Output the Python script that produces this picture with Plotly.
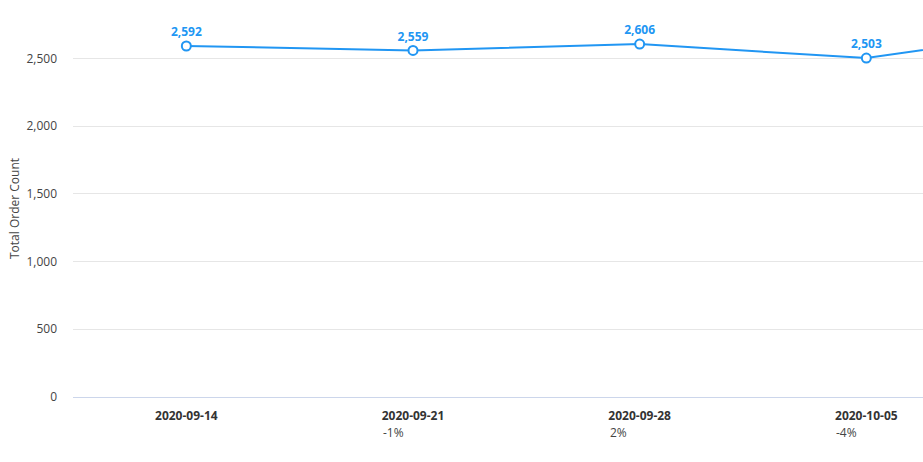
import plotly.graph_objects as go

weeks = ["2020-09-14", "2020-09-21", "2020-09-28", "2020-10-05", "2020-10-12"]
orders = [2592, 2559, 2606, 2503, 2740]
changes = ["", "-1%", "2%", "-4%", "9%"]

BLUE = "#2196f3"
FONT = "Open Sans"
VISIBLE = 4  # categories that fall inside the visible window

fig = go.Figure()
fig.add_trace(go.Scatter(
    x=list(range(len(weeks))), y=orders,
    mode="lines+markers+text",
    line=dict(color=BLUE, width=2),
    marker=dict(size=9, color="white", line=dict(color=BLUE, width=2)),
    text=[f"<b>{v:,}</b>" if i < VISIBLE else "" for i, v in enumerate(orders)],
    textposition="top center",
    textfont=dict(family=FONT, size=12, color=BLUE),
    cliponaxis=True,
    hoverinfo="skip",
))

for i, c in enumerate(changes[:VISIBLE]):
    if c:
        fig.add_annotation(
            x=i, xref="x", y=0, yref="paper",
            text=c, showarrow=False,
            xanchor="left", yanchor="top",
            xshift=-32, yshift=-25,
            font=dict(family=FONT, size=12, color="#444"),
        )

fig.update_layout(
    width=923, height=462,
    margin=dict(l=73, r=0, t=20, b=65),
    plot_bgcolor="white", paper_bgcolor="white",
    showlegend=False,
    font=dict(family=FONT, color="#444"),
)
fig.update_xaxes(
    range=[-0.5, 3.25],
    tickmode="array",
    tickvals=list(range(VISIBLE)),
    ticktext=[f"<b>{w}</b>" for w in weeks[:VISIBLE]],
    tickfont=dict(family=FONT, size=12, color="#333"),
    showgrid=False, zeroline=False,
    showline=True, linecolor="#ccd6eb", linewidth=1,
    ticks="", ticklabelstandoff=8,
    automargin=False,
)
fig.update_yaxes(
    range=[0, 2784],
    tickvals=[0, 500, 1000, 1500, 2000, 2500],
    tickformat=",",
    tickfont=dict(family=FONT, size=12, color="#444"),
    showgrid=True, gridcolor="#e6e6e6", gridwidth=1,
    zeroline=False, showline=False,
    ticks="", ticklabelstandoff=15,
    automargin=False,
    title=dict(text="Total Order Count", font=dict(family=FONT, size=12, color="#444"), standoff=4),
)

fig.write_html(
    "out.html",
    config={"displayModeBar": False},
    post_script="document.body.style.margin='0';document.body.style.overflow='hidden';",
)
